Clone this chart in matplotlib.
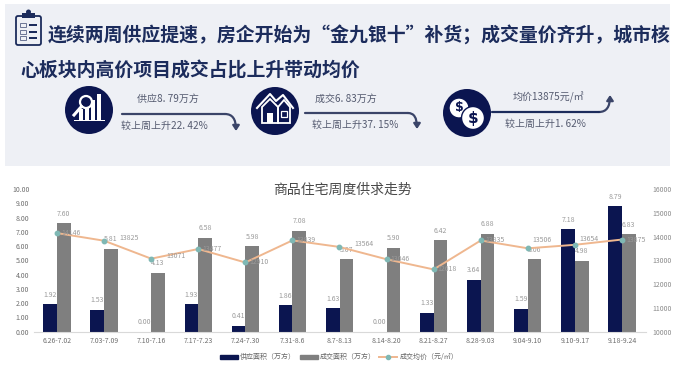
import numpy as np
import matplotlib
matplotlib.use('Agg')
import matplotlib.pyplot as plt
from matplotlib.patches import Circle, Rectangle, FancyBboxPatch, FancyArrowPatch, Polygon
from matplotlib.lines import Line2D

plt.rcParams['font.family'] = ['Noto Sans CJK SC', 'DejaVu Sans']

weeks = ['6.26-7.02', '7.03-7.09', '7.10-7.16', '7.17-7.23', '7.24-7.30', '7.31-8.6', '8.7-8.13',
         '8.14-8.20', '8.21-8.27', '8.28-9.03', '9.04-9.10', '9.10-9.17', '9.18-9.24']
supply = [1.92, 1.53, 0.00, 1.93, 0.41, 1.86, 1.63, 0.00, 1.33, 3.64, 1.59, 7.18, 8.79]
deals = [7.60, 5.81, 4.13, 6.58, 5.98, 7.08, 5.07, 5.90, 6.42, 6.88, 5.06, 4.98, 6.83]
price = [14146, 13825, 13071, 13477, 12910, 13839, 13564, 13046, 12618, 13835, 13506, 13654, 13875]

W, H = 684, 372
NAVY = '#0b1550'
DARK = '#1c2c5c'
GRAY = '#7f7f7f'
LABEL = '#9a9a9a'

fig = plt.figure(figsize=(W / 100, H / 100), dpi=100)

# banner and icons, in pixel coordinates
bg = fig.add_axes([0, 0, 1, 1])
bg.set_xlim(0, W)
bg.set_ylim(H, 0)
bg.axis('off')
bg.add_patch(Rectangle((5, 4), 665, 162, color='#eef0f5', lw=0))

bg.text(48, 36, '连续两周供应提速，房企开始为“金九银十”补货；成交量价齐升，城市核', fontsize=13.6,
        fontweight='bold', color=DARK, va='center', ha='left')
bg.text(20, 71, '心板块内高价项目成交占比上升带动均价', fontsize=13.6, fontweight='bold',
        color=DARK, va='center', ha='left')

# clipboard
bg.add_patch(FancyBboxPatch((16, 16), 25, 29, boxstyle='round,pad=0,rounding_size=2', fc='none', ec=DARK, lw=1.3))
bg.add_patch(Rectangle((22, 13), 13, 5, color=DARK, lw=0))
bg.add_patch(Circle((28.5, 12), 2.5, color=DARK, lw=0))
for yy in [25, 31.5, 38]:
    bg.add_patch(Rectangle((20, yy - 2), 6, 4, fc='none', ec='#6b7594', lw=0.7))
    bg.add_patch(Rectangle((29, yy - 1), 8, 2, color=DARK, lw=0))

# three round icons
for cx, cy in [(89, 110), (275, 111), (467, 113)]:
    bg.add_patch(Circle((cx, cy), 24, color=NAVY, lw=0))

# icon 1: magnifier and bars
for bx, bh in [(79, 11), (85, 16), (91, 20), (97, 26)]:
    bg.add_patch(Rectangle((bx, 120 - bh), 3.5, bh, color='white', lw=0))
bg.add_patch(Rectangle((74, 119.5), 31, 1.2, color='white', lw=0))
bg.add_patch(Circle((86, 102), 6, fc=NAVY, ec='white', lw=1.6))
bg.plot([81.5, 74], [106.5, 115], color='white', lw=2.2)

# icon 2: houses
bg.plot([257, 270, 276, 283, 293], [108, 94, 101, 95, 108], color='white', lw=1.5)
bg.add_patch(Polygon([(262, 107), (270, 99), (278, 107), (278, 123), (262, 123)], fc='none', ec='white', lw=1.3))
bg.add_patch(Polygon([(278, 107), (284, 100), (290, 107), (290, 123), (278, 123)], fc='none', ec='white', lw=1.3))
bg.add_patch(Rectangle((267, 113), 6, 10, color='white', lw=0))
bg.add_patch(Rectangle((281, 111), 6, 6, fc='none', ec='white', lw=0.9))

# icon 3: coins
bg.add_patch(Circle((459, 108), 10, fc='white', ec=NAVY, lw=1))
bg.add_patch(Circle((473, 118), 11.5, fc='white', ec=NAVY, lw=1))
bg.text(459, 108, '$', fontsize=9, fontweight='bold', color=NAVY, ha='center', va='center', family='DejaVu Sans')
bg.text(473, 118, '$', fontsize=11, fontweight='bold', color=NAVY, ha='center', va='center', family='DejaVu Sans')

# arrows
arrow = dict(arrowstyle='-|>,head_width=2,head_length=3', color='#3a4468', lw=1.6, shrinkA=0, shrinkB=0)
bg.plot([122, 225], [114, 114], color='#3a4468', lw=1.6, solid_capstyle='round')
bg.add_patch(FancyArrowPatch((225, 114), (236, 131), connectionstyle='angle3,angleA=0,angleB=90', **arrow))
bg.plot([305, 408], [113, 113], color='#3a4468', lw=1.6, solid_capstyle='round')
bg.add_patch(FancyArrowPatch((408, 113), (417, 129), connectionstyle='angle3,angleA=0,angleB=90', **arrow))
bg.plot([492, 599], [112, 112], color=DARK, lw=1.6, solid_capstyle='round')
bg.add_patch(FancyArrowPatch((599, 112), (610, 95), connectionstyle='angle3,angleA=0,angleB=90', **arrow))

for tx, ty, s in [(168, 99, '供应8. 79万方'), (164, 126, '较上周上升22. 42%'),
                  (346, 99, '成交6. 83万方'), (355, 125, '较上周上升37. 15%'),
                  (548, 97, '均价13875元/㎡'), (545, 124, '较上周上升1. 62%')]:
    bg.text(tx, ty, s, fontsize=7.2, color='#555b70', ha='center', va='center')

# chart
left, right, top, bottom = 33.5, 645.5, 189, 331.7
ax = fig.add_axes([left / W, 1 - bottom / H, (right - left) / W, (bottom - top) / H])
ax.patch.set_alpha(0)
x = np.arange(len(weeks))
bw = 0.29
ax.bar(x - bw / 2, supply, bw, color=NAVY, label='供应面积（万方）')
ax.bar(x + bw / 2, deals, bw, color=GRAY, label='成交面积（万方）')
ax.set_xlim(-0.5, 12.5)
ax.set_ylim(0, 10)
ax.set_yticks(np.arange(0, 11))
ax.set_yticklabels(['%.2f' % v for v in np.arange(0, 11)])
ax.set_xticks(x)
ax.set_xticklabels(weeks)
ax.tick_params(length=0, labelsize=5, labelcolor='#6e6e6e', pad=3)
ax.tick_params(axis='x', pad=3.5)
for s in ['top', 'right', 'left']:
    ax.spines[s].set_visible(False)
ax.spines['bottom'].set_color('#d9d9d9')

for i in x:
    ax.annotate('%.2f' % supply[i], (i - bw / 2, supply[i]), xytext=(0, 4), textcoords='offset points',
                ha='center', va='bottom', fontsize=5, color=LABEL)
    ax.annotate('%.2f' % deals[i], (i + bw / 2, deals[i]), xytext=(0, 4), textcoords='offset points',
                ha='center', va='bottom', fontsize=5, color=LABEL)

ax2 = ax.twinx()
ax2.patch.set_alpha(0)
ax2.plot(x, price, color='#efb78f', lw=1.4, marker='o', ms=3.2, mfc='#7fb8b4', mec='#7fb8b4')
ax2.set_ylim(10000, 16000)
ax2.set_yticks(np.arange(10000, 16001, 1000))
ax2.tick_params(length=0, labelsize=5, labelcolor='#8a8a8a', pad=5)
for s in ax2.spines.values():
    s.set_visible(False)

# some price labels are moved so they clear the bar label beside them
moved = {1: (11, 2), 2: (11, 2), 6: (11, 2), 10: (3, 6), 11: (3, 4)}
for i in x:
    ax2.annotate(str(price[i]), (i, price[i]), xytext=moved.get(i, (3, 0)), textcoords='offset points',
                 ha='left', va='center', fontsize=5, color=LABEL)

fig.text(342 / W, 1 - 190 / H, '商品住宅周度供求走势', fontsize=10, color='#4a4a4a', ha='center', va='center')

handles = [Rectangle((0, 0), 1, 1, color=NAVY), Rectangle((0, 0), 1, 1, color=GRAY),
           Line2D([], [], color='#efb78f', lw=1.4, marker='o', ms=3, mfc='#7fb8b4', mec='#7fb8b4')]
fig.legend(handles, ['供应面积（万方）', '成交面积（万方）', '成交均价（元/㎡）'], ncol=3, frameon=False,
           fontsize=5, labelcolor='#666666', loc='center', bbox_to_anchor=(339 / W, 1 - 357 / H),
           handlelength=2.6, handleheight=0.5, columnspacing=0.5, handletextpad=0.3)

fig.savefig('out.png', dpi=100)
